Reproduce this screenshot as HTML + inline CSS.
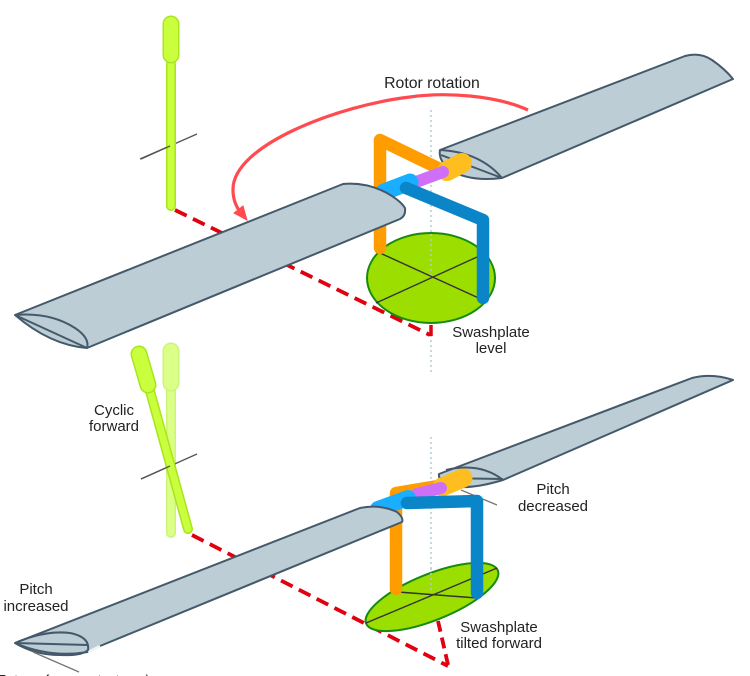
<!DOCTYPE html>
<html><head><meta charset="utf-8"><title>Cyclic and swashplate</title>
<style>
html,body{margin:0;padding:0;background:#fff}
svg{display:block}
text{font-family:"Liberation Sans",sans-serif;font-size:14.8px;fill:#222;text-anchor:middle}
.b{fill:#bccdd5;stroke:#44596a;stroke-width:2;stroke-linejoin:round}
.s{fill:none;stroke:#44596a;stroke-width:2}
.l{fill:none;stroke:#333;stroke-width:1.4}
.r{fill:none;stroke:#e0000f;stroke-width:3.8;stroke-dasharray:13 7}
.d{fill:none;stroke:#b4ccd6;stroke-width:1.5;stroke-dasharray:2 3}
.p{fill:none;stroke-linecap:round;stroke-linejoin:round}
</style></head><body>
<svg width="750" height="676" viewBox="0 0 750 676" xmlns="http://www.w3.org/2000/svg">
<!-- TOP -->
<path class="d" d="M431 110V373"/>
<path class="r" d="M175 210L430 335"/>
<path d="M431 325V336" fill="none" stroke="#e0000f" stroke-width="3.5"/>
<!-- cyclic top -->
<path d="M140 159L197 134" stroke="#555" stroke-width="1.3" fill="none"/>
<path class="p" d="M171 64V206" stroke="#a9e51c" stroke-width="10"/>
<path class="p" d="M171 64V206" stroke="#c9ff3c" stroke-width="7"/>
<path class="p" d="M171 24V55" stroke="#a9e51c" stroke-width="17"/>
<path class="p" d="M171 24V55" stroke="#c9ff3c" stroke-width="14"/>
<path d="M141 159L170 146" stroke="#555" stroke-width="1.3" fill="none"/>
<!-- swashplate top -->
<ellipse cx="431" cy="278" rx="64" ry="45" fill="#9bde00" stroke="#178a10" stroke-width="2"/>
<path class="d" d="M431 234V278" stroke="#c4e080"/>
<path class="l" d="M380 253L483 300M376 303L477 257"/>
<!-- right blade -->
<path class="b" d="M440 150L685 56Q700 52 712 60Q725 69 733 79L502 178Q470 182 450 170Q438 160 440 150Z"/>
<path class="s" d="M440 150Q480 152 502 178M441 155L502 178"/>
<!-- links -->
<path class="p" d="M380 248V140L442 170" stroke="#ff9d00" stroke-width="12.5"/>
<path class="p" d="M447 171L462 163" stroke="#ffbe20" stroke-width="20"/>
<path class="p" d="M416 182L443 172" stroke="#cf6ff7" stroke-width="12"/>
<path class="p" d="M384 192L410 182" stroke="#19aeff" stroke-width="17"/>
<path class="p" d="M406 188L483 220V298" stroke="#0985c8" stroke-width="12.5"/>
<!-- left blade -->
<path class="b" d="M15 315L343 184Q365 182 385 192Q400 200 405 208Q406 216 400 219L87 348Q50 345 15 315Z"/>
<path class="s" d="M15 315Q50 312 75 328Q90 338 87 348M15 315L87 348"/>
<!-- rotation arrow -->
<path d="M528 110C495 95 445 92 410 97C340 105 232 145 233 190C233 200 237 208 241 213" fill="none" stroke="#ff4a50" stroke-width="3.2"/>
<path d="M247 220L234 213L243 206Z" fill="#ff4a50" stroke="#ff4a50" stroke-width="1"/>
<text x="432" y="88" style="font-size:15.8px">Rotor rotation</text>
<text x="491" y="337" style="font-size:15px">Swashplate</text>
<text x="491" y="353" style="font-size:15px">level</text>

<!-- BOTTOM -->
<path class="d" d="M431 437V612"/>
<path class="r" d="M192 535L448 666"/>
<path d="M438 621L449 669" fill="none" stroke="#e0000f" stroke-width="3.8" stroke-dasharray="11 6"/>
<!-- ghost stick -->
<path class="p" d="M171 390V533" stroke="#cdf47a" stroke-width="10"/>
<path class="p" d="M171 390V533" stroke="#dcff88" stroke-width="7"/>
<path class="p" d="M171 351V383" stroke="#cdf47a" stroke-width="17"/>
<path class="p" d="M171 351V383" stroke="#dcff88" stroke-width="14"/>
<path d="M141 479L197 454" stroke="#555" stroke-width="1.3" fill="none"/>
<!-- tilted stick -->
<path class="p" d="M150 391L188 529" stroke="#a9e51c" stroke-width="10"/>
<path class="p" d="M150 391L188 529" stroke="#c9ff3c" stroke-width="7"/>
<path class="p" d="M139 354L148 385" stroke="#a9e51c" stroke-width="17"/>
<path class="p" d="M139 354L148 385" stroke="#c9ff3c" stroke-width="14"/>
<path d="M141 479L170 466" stroke="#555" stroke-width="1.3" fill="none"/>
<text x="114" y="415" style="font-size:15px">Cyclic</text>
<text x="114" y="431" style="font-size:15px">forward</text>
<!-- swashplate bottom -->
<ellipse cx="432" cy="597" rx="71" ry="23" transform="rotate(-22 432 597)" fill="#9bde00" stroke="#178a10" stroke-width="2"/>
<path class="d" d="M431 568V595"/>
<path class="l" d="M366 623L497 568M398 592L477 598"/>
<!-- right blade bottom -->
<path d="M461 490L497 505" stroke="#777" stroke-width="1.3" fill="none"/>
<path class="b" d="M439 474L692 378Q712 373 733 380L503 480Q470 490 450 486Q438 482 439 474Z"/>
<path class="s" d="M446 470Q480 462 503 480M440 478L503 479"/>
<!-- links bottom -->
<path class="p" d="M396 589V493L438 486" stroke="#ff9d00" stroke-width="12.5"/>
<path class="p" d="M442 487L463 478" stroke="#ffbe20" stroke-width="19"/>
<path class="p" d="M417 494L441 488" stroke="#cf6ff7" stroke-width="12"/>
<path class="p" d="M378 509L408 498" stroke="#19aeff" stroke-width="16"/>
<path class="p" d="M407 503L477 501V593" stroke="#0985c8" stroke-width="12.5"/>
<!-- left blade bottom -->
<path class="b" d="M15 643L360 508Q380 504 397 512Q404 518 402 522L100 646L88 652Q50 658 15 643Z"/>
<path d="M88 652L100 646" stroke="#eef3f5" stroke-width="2.5" fill="none"/>
<path class="s" d="M15 643Q45 630 70 633Q90 637 88 650Q82 656 60 655Q35 655 15 643M15 643L88 645"/>
<path d="M33 652L79 672" stroke="#777" stroke-width="1.3" fill="none"/>
<text x="36" y="594" style="font-size:15px">Pitch</text>
<text x="36" y="611" style="font-size:15px">increased</text>
<text x="553" y="494" style="font-size:15px">Pitch</text>
<text x="553" y="511" style="font-size:15px">decreased</text>
<text x="499" y="632" style="font-size:15px">Swashplate</text>
<text x="499" y="648" style="font-size:15px">tilted forward</text>
<text x="72" y="684" style="font-size:12.5px">(Rotors of some rotor types)</text>
</svg>
</body></html>
